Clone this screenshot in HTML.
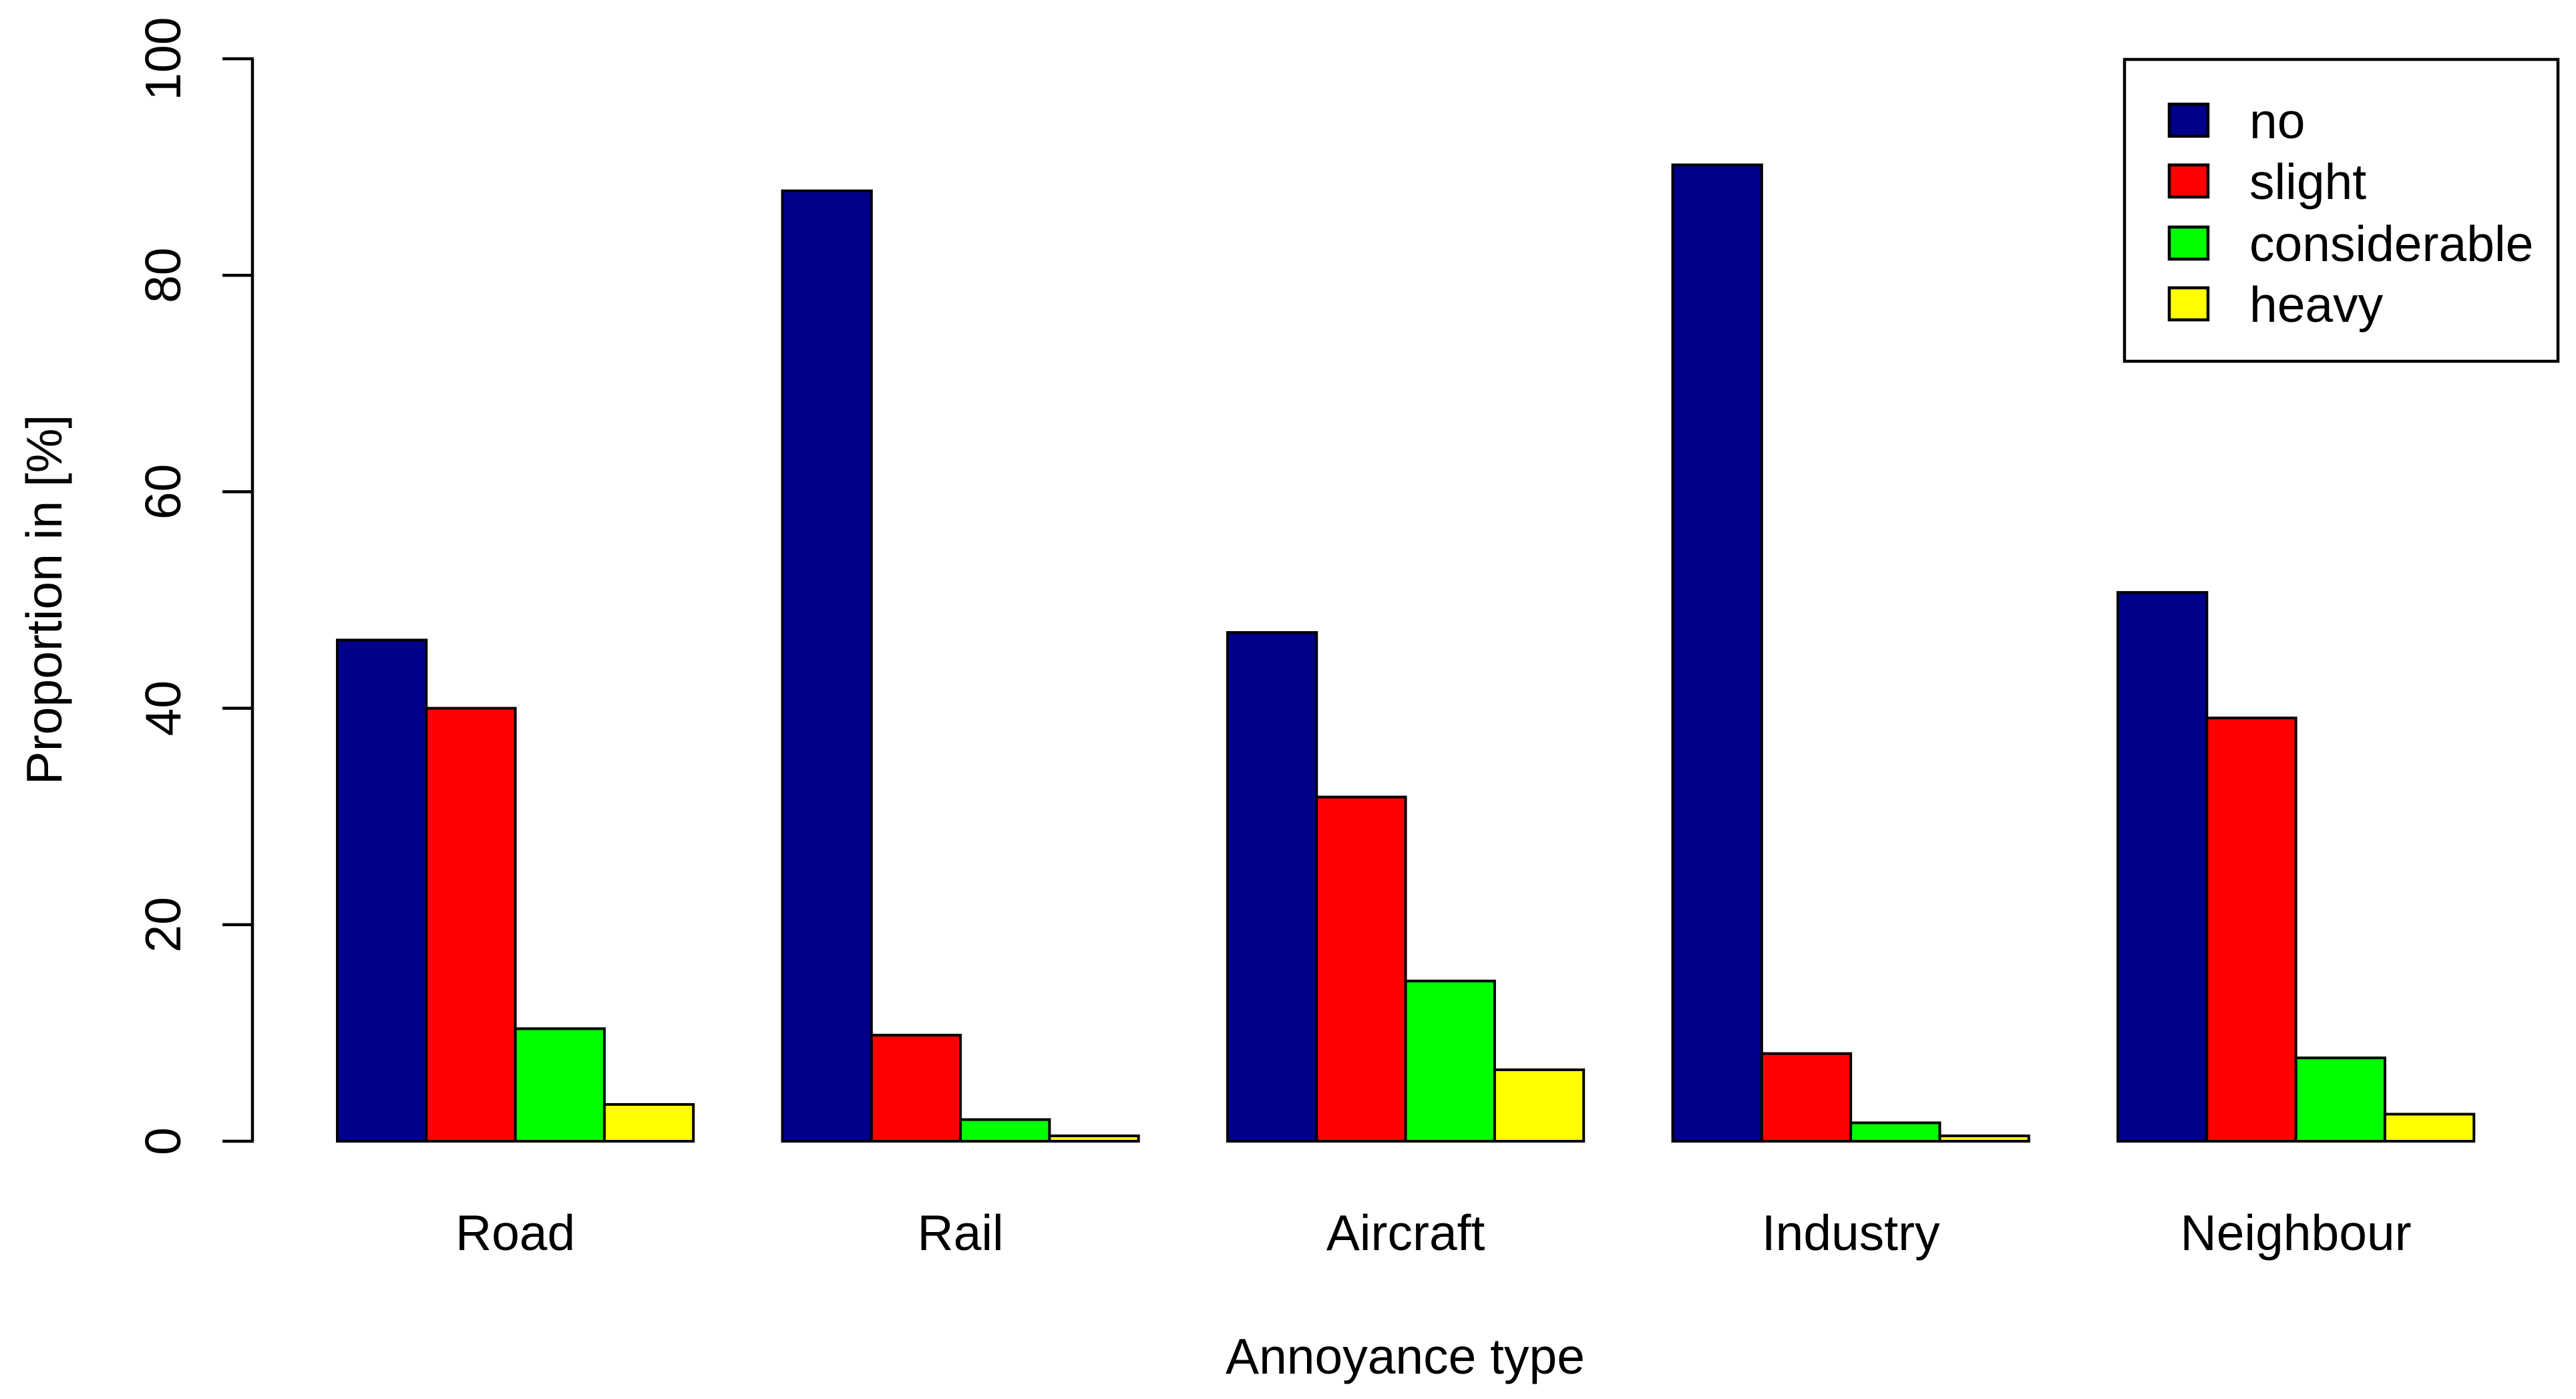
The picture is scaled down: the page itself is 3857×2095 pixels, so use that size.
<!DOCTYPE html>
<html><head><meta charset="utf-8"><style>
html,body{margin:0;padding:0;background:#fff}
svg{display:block;font-family:"Liberation Sans",Arial,sans-serif}
</style></head><body>
<svg id="chart" width="3857" height="2095" viewBox="0 0 3857 2095" xmlns="http://www.w3.org/2000/svg">
<rect width="3857" height="2095" fill="#fff"/>
<g id="bars"></g>
<g id="yaxis"></g>
<g id="xlabels"></g>
<text x="2104" y="2057" font-size="75" text-anchor="middle">Annoyance type</text>
<text transform="translate(92,898) rotate(-90)" font-size="75" text-anchor="middle">Proportion in [%]</text>
<g id="legend"></g>
</svg>
<script>
const categories = ["Road","Rail","Aircraft","Industry","Neighbour"];
const seriesNames = ["no","slight","considerable","heavy"];
const seriesColors = ["#00008B","#FF0000","#00FF00","#FFFF00"];
const valuesNo = [46.3, 87.8, 47.0, 90.2, 50.7];
const valuesSlight = [40.0, 9.8, 31.8, 8.1, 39.1];
const valuesConsiderable = [10.4, 2.0, 14.8, 1.7, 7.7];
const valuesHeavy = [3.4, 0.5, 6.6, 0.5, 2.5];
const yTicks = [0, 20, 40, 60, 80, 100];

const NS = "http://www.w3.org/2000/svg";
const series = [valuesNo, valuesSlight, valuesConsiderable, valuesHeavy];
const y0 = 1709, y100 = 88;
function yScale(v){ return y0 + (y100 - y0) * v / 100; }
const barW = 133.3, x0 = 505;
function xBar(g, i){ return x0 + (g * (series.length + 1) + i) * barW; }
function mk(tag, attrs, parent){
  const el = document.createElementNS(NS, tag);
  for (const k in attrs) el.setAttribute(k, attrs[k]);
  parent.appendChild(el);
  return el;
}
const barsG = document.getElementById('bars');
categories.forEach((c, g) => {
  series.forEach((vals, i) => {
    const v = vals[g];
    const r = mk('rect', {x: xBar(g,i), y: yScale(v), width: barW, height: yScale(0) - yScale(v), fill: seriesColors[i], stroke: '#000', 'stroke-width': 4}, barsG);
    
    
  });
});
const ya = document.getElementById('yaxis');
const axl = mk('line', {x1: 378, x2: 378, y1: yScale(0), y2: yScale(100), stroke: '#000', 'stroke-width': 4.5}, ya);


yTicks.forEach(t => {
  const tk = mk('line', {x1: 333, x2: 380, y1: yScale(t), y2: yScale(t), stroke: '#000', 'stroke-width': 4.5}, ya);
  
  
  const tl = mk('text', {transform: 'translate(270,' + yScale(t) + ') rotate(-90)', 'font-size': 75, 'text-anchor': 'middle'}, ya);
  tl.textContent = t;
  
  
});
const xl = document.getElementById('xlabels');
categories.forEach((c, g) => {
  const cx = xBar(g, 0) + barW * series.length / 2;
  const t = mk('text', {x: cx, y: 1872, 'font-size': 75, 'text-anchor': 'middle'}, xl);
  t.textContent = c;
  
  
});
const lg = document.getElementById('legend');
const box = mk('rect', {x: 3181, y: 89, width: 649, height: 452, fill: '#fff', stroke: '#000', 'stroke-width': 4.5}, lg);


const rowY = [180, 271, 364, 455];
seriesNames.forEach((n, i) => {
  const sw = mk('rect', {x: 3248, y: rowY[i] - 24, width: 58, height: 48, fill: seriesColors[i], stroke: '#000', 'stroke-width': 4.5}, lg);
  
  
  const t = mk('text', {x: 3368, y: rowY[i] + 27, 'font-size': 75}, lg);
  t.textContent = n;
  
  
});
</script>
</body></html>
